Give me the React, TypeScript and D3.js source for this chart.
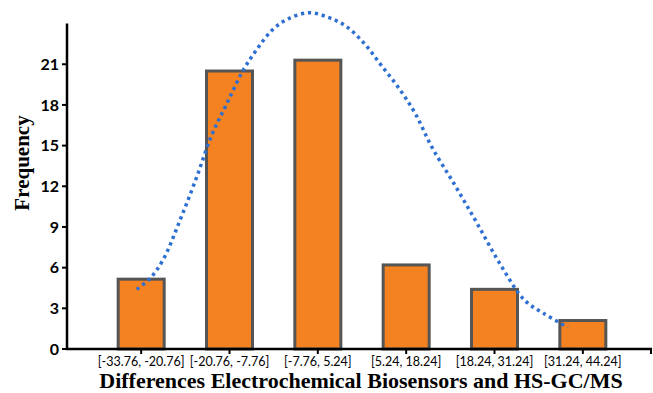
import React from "react";
import * as d3 from "d3";

// Histogram bins and their counts
const categories = [
  "[-33.76, -20.76]",
  "[-20.76, -7.76]",
  "[-7.76, 5.24]",
  "[5.24, 18.24]",
  "[18.24, 31.24]",
  "[31.24, 44.24]",
];
const frequencies = [5.15, 20.5, 21.3, 6.2, 4.4, 2.1];

// Y axis ticks
const yTicks = [0, 3, 6, 9, 12, 15, 18, 21];

// Fitted distribution curve, x in bin-index units, y in frequency
const curveX = [-0.05, 0.1, 0.25, 0.44, 0.63, 0.8, 0.97, 1.15, 1.31, 1.48, 1.65, 1.9, 2.12, 2.32, 2.53, 2.72, 2.91, 3.1, 3.29, 3.55, 3.8, 4.06, 4.34, 4.55, 4.83];
const curveY = [4.4, 5.2, 6.6, 9.5, 12.7, 15.8, 18.1, 20.5, 22.1, 23.5, 24.3, 24.8, 24.45, 23.8, 22.5, 20.9, 19.3, 17.4, 14.9, 12.1, 9.3, 6.3, 3.6, 2.65, 1.6];

const W = 653;
const H = 393;
const axisX0 = 67;
const axisX1 = 652;
const axisY0 = 349;

export default function App() {
  const x = d3.scaleBand<string>().domain(categories).range([97, 627]).paddingInner(0).paddingOuter(0);
  const y = d3.scaleLinear().domain([0, 24]).range([axisY0, axisY0 - 24 * 13.56]);
  const xIdx = d3
    .scaleLinear()
    .domain([0, 1])
    .range([x(categories[0])! + x.bandwidth() / 2, x(categories[1])! + x.bandwidth() / 2]);

  const barW = 46;
  const line = d3
    .line<number>()
    .x((_, i) => xIdx(curveX[i]))
    .y((d) => y(d))
    .curve(d3.curveCatmullRom.alpha(0.5));

  const tickFont = "Lato, 'Open Sans', sans-serif";
  const titleFont = "'Liberation Serif', 'Times New Roman', serif";

  return (
    <svg
      width={W}
      height={H}
      style={{ position: "absolute", left: 0, top: 0, display: "block", background: "#fff" }}
    >
      {/* bars */}
      {frequencies.map((v, i) => {
        const cx = x(categories[i])! + x.bandwidth() / 2;
        return (
          <rect
            key={i}
            x={cx - barW / 2}
            y={y(v)}
            width={barW}
            height={axisY0 - y(v)}
            fill="#F58220"
            stroke="#555555"
            strokeWidth={3}
          />
        );
      })}

      {/* distribution curve */}
      <path
        d={line(curveY) || ""}
        fill="none"
        stroke="#2E6FD2"
        strokeWidth={3.5}
        strokeDasharray="3.2 3.8"
      />

      {/* y axis */}
      <line x1={axisX0} x2={axisX0} y1={y(24)} y2={axisY0 + 1} stroke="#000" strokeWidth={2.5} />
      {yTicks.map((t) => (
        <g key={t}>
          <line x1={axisX0 - 5} x2={axisX0} y1={y(t)} y2={y(t)} stroke="#000" strokeWidth={2} />
          <text
            x={axisX0 - 8}
            y={y(t)}
            dy="0.36em"
            textAnchor="end"
            fontFamily={tickFont}
            fontWeight="bold"
            fontSize={16}
            fill="#000"
          >
            {t}
          </text>
        </g>
      ))}

      {/* x axis */}
      <line x1={axisX0 - 1} x2={axisX1} y1={axisY0} y2={axisY0} stroke="#000" strokeWidth={2.5} />
      {categories.map((c) => {
        const cx = x(c)! + x.bandwidth() / 2;
        return (
          <g key={c}>
            <line x1={cx} x2={cx} y1={axisY0} y2={axisY0 + 5} stroke="#000" strokeWidth={2} />
            <text
              x={cx}
              y={axisY0 + 17}
              textAnchor="middle"
              fontFamily={tickFont}
              fontSize={12.5}
              fill="#000"
            >
              {c}
            </text>
          </g>
        );
      })}
      <line x1={axisX1 - 1} x2={axisX1 - 1} y1={axisY0} y2={axisY0 + 5} stroke="#000" strokeWidth={2} />

      {/* axis titles */}
      <text
        x={361}
        y={388}
        textAnchor="middle"
        fontFamily={titleFont}
        fontWeight="bold"
        fontSize={22}
        fill="#000"
      >
        Differences Electrochemical Biosensors and HS-GC/MS
      </text>
      <text
        transform={`translate(29, 163) rotate(-90)`}
        textAnchor="middle"
        fontFamily={titleFont}
        fontWeight="bold"
        fontSize={21}
        fill="#000"
      >
        Frequency
      </text>
    </svg>
  );
}
